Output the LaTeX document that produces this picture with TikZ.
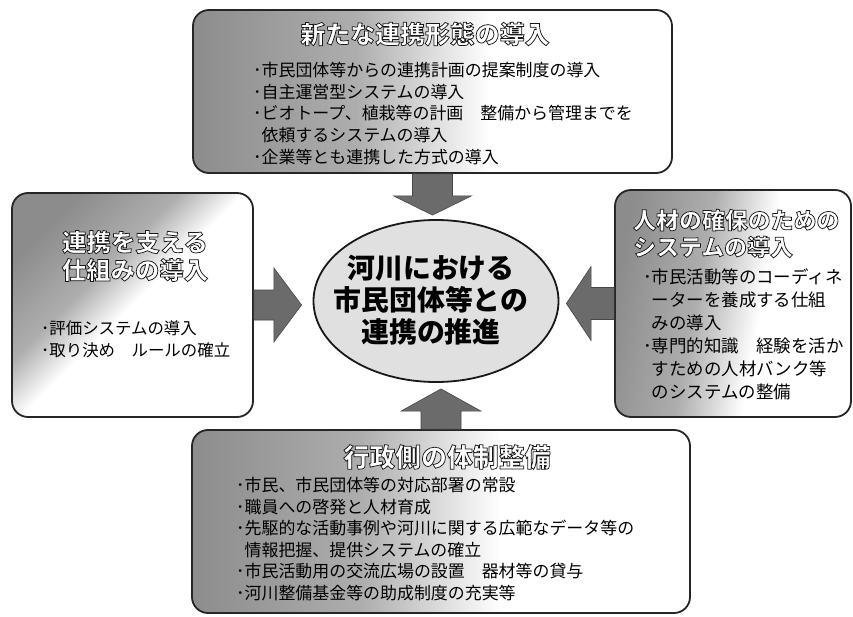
\documentclass[tikz,border=0pt]{standalone}
\usepackage{fontspec}
\setmainfont{Noto Sans CJK JP}
\usetikzlibrary{shapes.geometric,calc}
\newcommand\outlinetxt[1]{\special{pdf:literal direct 0.1 0.1 0.1 RG 0.75 w 2 Tr}#1\special{pdf:literal direct 0 Tr}}
\pgfdeclarehorizontalshading{fadeH}{100bp}{color(0bp)=(black!45); color(25bp)=(black!45); color(42bp)=(black!32); color(56bp)=(white); color(100bp)=(white)}
\pgfdeclarehorizontalshading{fadeD}{100bp}{color(0bp)=(black!45); color(25bp)=(black!45); color(40bp)=(black!32); color(50bp)=(white); color(100bp)=(white)}
\begin{document}
\begin{tikzpicture}[x=1bp,y=-1bp,
  panel/.style={draw=black!85, line width=1.8bp, rounded corners=16bp, shade, shading=fadeH, inner sep=0pt},
  arr/.style={fill=black!58, draw=black!72, line width=0.6bp},
  ttl/.style={text=white, inner sep=0pt, align=center},
  items/.style={inner sep=0pt, align=left, anchor=west},
  core/.style={ellipse, draw=black!90, line width=1.8bp, fill=black!12, inner sep=0pt,
               minimum width=245bp, minimum height=162bp}]
\useasboundingbox[fill=white] (0,0) rectangle (853,617);

% panels
\node[panel, minimum width=479bp, minimum height=163bp] (top) at (432.5,91.5) {};
\node[panel, shading=fadeD, shading angle=-45, minimum width=241bp, minimum height=224bp] (left) at (132.5,305) {};
\node[panel, shading angle=-10, minimum width=236bp, minimum height=227bp] (right) at (733,303.5) {};
\node[panel, minimum width=498bp, minimum height=183bp] (bottom) at (441,521.5) {};

% centre
\node[core] (ell) at (436,301) {};
\node[inner sep=0pt, align=center, font=\fontsize{28}{32}\selectfont\bfseries] (coretxt) at (431,300)
  {河川における\\市民団体等との\\連携の推進};

% block arrows
\filldraw[arr] ([xshift=-20bp]top.south) -- ([xshift=-20bp,yshift=-22bp]top.south)
  -- ([xshift=-39bp,yshift=-22bp]top.south) -- ($(top.south |- ell.north)+(0,-4)$)
  -- ([xshift=39bp,yshift=-22bp]top.south) -- ([xshift=20bp,yshift=-22bp]top.south)
  -- ([xshift=20bp]top.south) -- cycle;
\filldraw[arr] ([xshift=-20bp]bottom.north) -- ([xshift=-20bp,yshift=18bp]bottom.north)
  -- ([xshift=-40bp,yshift=18bp]bottom.north) -- ($(bottom.north |- ell.south)+(0,6)$)
  -- ([xshift=40bp,yshift=18bp]bottom.north) -- ([xshift=20bp,yshift=18bp]bottom.north)
  -- ([xshift=20bp]bottom.north) -- cycle;
\filldraw[arr] ([yshift=15bp]left.east) -- ([xshift=20bp,yshift=15bp]left.east)
  -- ([xshift=20bp,yshift=37bp]left.east) -- ($(left.east -| ell.west)+(-11,0)$)
  -- ([xshift=20bp,yshift=-37bp]left.east) -- ([xshift=20bp,yshift=-15bp]left.east)
  -- ([yshift=-15bp]left.east) -- cycle;
\filldraw[arr] ([yshift=16bp]right.west) -- ([xshift=-23bp,yshift=16bp]right.west)
  -- ([xshift=-23bp,yshift=37bp]right.west) -- ($(right.west -| ell.east)+(7,0)$)
  -- ([xshift=-23bp,yshift=-37bp]right.west) -- ([xshift=-23bp,yshift=-16bp]right.west)
  -- ([yshift=-16bp]right.west) -- cycle;

% top panel text
\node[ttl, font=\fontsize{25}{29}\selectfont\bfseries] (toptitle) at (425,34) {\outlinetxt{新たな連携形態の導入}};
\node[items, font=\fontsize{17}{21.75}\selectfont] (topitems) at (253,113.5)
  {･市民団体等からの連携計画の提案制度の導入\\
   ･自主運営型システムの導入\\
   ･ビオトープ、植栽等の計画　整備から管理までを\\
   \hspace*{0.5em}依頼するシステムの導入\\
   ･企業等とも連携した方式の導入};

% left panel text
\node[ttl, font=\fontsize{24.5}{28}\selectfont\bfseries] (lefttitle) at (135,256)
  {\outlinetxt{連携を支える}\\\outlinetxt{仕組みの導入}};
\node[items, font=\fontsize{16.5}{22.5}\selectfont] (leftitems) at (41,339)
  {･評価システムの導入\\
   ･取り決め　ルールの確立};

% right panel text
\node[ttl, align=left, anchor=west, font=\fontsize{23}{27}\selectfont\bfseries] (righttitle) at (633,233.5)
  {\outlinetxt{人材の確保のための}\\\outlinetxt{システムの導入}};
\node[items, font=\fontsize{17.5}{23}\selectfont] (rightitems) at (643,334.5)
  {･市民活動等のコーディネ\\
   \hspace*{0.5em}ーターを養成する仕組\\
   \hspace*{0.5em}みの導入\\
   ･専門的知識　経験を活か\\
   \hspace*{0.5em}すための人材バンク等\\
   \hspace*{0.5em}のシステムの整備};

% bottom panel text
\node[ttl, font=\fontsize{26}{30}\selectfont\bfseries] (bottomtitle) at (447,457) {\outlinetxt{行政側の体制整備}};
\node[items, font=\fontsize{17}{21.6}\selectfont] (bottomitems) at (236,539)
  {･市民、市民団体等の対応部署の常設\\
   ･職員への啓発と人材育成\\
   ･先駆的な活動事例や河川に関する広範なデータ等の\\
   \hspace*{0.5em}情報把握、提供システムの確立\\
   ･市民活動用の交流広場の設置　器材等の貸与\\
   ･河川整備基金等の助成制度の充実等};
\end{tikzpicture}
\end{document}
